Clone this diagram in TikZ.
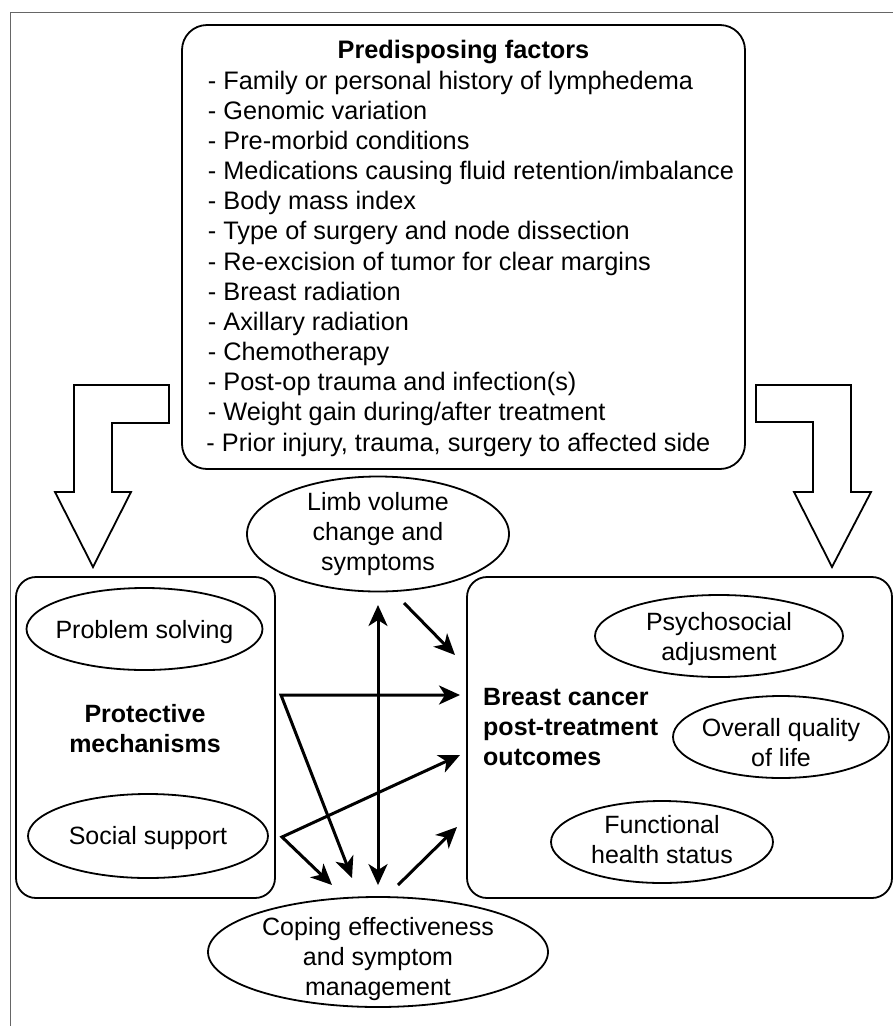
\documentclass[tikz,border=0pt]{standalone}
\usepackage{fontspec}
\setmainfont{Liberation Sans}
\usetikzlibrary{shapes.geometric,arrows.meta}
\begin{document}
\begin{tikzpicture}[x=1pt,y=-1pt,
  boldtxt/.style={font=\fontsize{25}{30}\selectfont\bfseries, inner sep=0pt},
  roundbox/.style={draw, line width=1.8pt, rounded corners=20pt, inner sep=0pt},
  oval/.style={draw, fill=white, ellipse, line width=1.8pt, inner sep=-10pt, align=center, font=\fontsize{25}{30}\selectfont},
  tip/.tip={Stealth[length=21pt,width=19pt,inset=6pt]},
  arr/.style={line width=3pt, -tip},
  dblarr/.style={line width=3pt, tip-tip},
  bigarrow/.style={draw, fill=white, line width=1.8pt, line join=miter},
]
\useasboundingbox (0,0) rectangle (893,1026);
\draw[black!60, line width=1pt] (10,1040) -- (10,12) -- (905,12);

% top box
\node[roundbox, rounded corners=25pt, minimum width=563pt, minimum height=444pt,
      font=\fontsize{25.3}{30.17}\selectfont] (pf) at (463.5,247)
  {\hspace*{14.9pt}\raisebox{-2pt}[\height][\depth]{\begin{tabular}{@{}l@{}}
   \multicolumn{1}{@{}c@{}}{\textbf{Predisposing factors}\hspace*{14.9pt}}\\
   - Family or personal history of lymphedema\\
   - Genomic variation\\
   - Pre-morbid conditions\\
   - Medications causing fluid retention/imbalance\\
   - Body mass index\\
   - Type of surgery and node dissection\\
   - Re-excision of tumor for clear margins\\
   - Breast radiation\\
   - Axillary radiation\\
   - Chemotherapy\\
   - Post-op trauma and infection(s)\\
   - Weight gain during/after treatment\\
   \hspace*{-1.5pt}- Prior injury, trauma, surgery to affected side
   \end{tabular}}};

% hollow arrows
\draw[bigarrow] (74,385) -- (169,385) -- (169,423) -- (112,423) -- (112,492) -- (131,492)
  -- (93,567) -- (55,492) -- (74,492) -- cycle;
\draw[bigarrow] (851,385) -- (756,385) -- (756,422) -- (813,422) -- (813,492) -- (794,492)
  -- (832,567) -- (871,492) -- (851,492) -- cycle;

% side boxes
\node[roundbox, minimum width=259pt, minimum height=321pt] (lbox) at (145.5,737.5) {};
\node[roundbox, minimum width=425pt, minimum height=321pt] (obox) at (679.5,737.5) {};

\node[boldtxt, align=center] (prot) at (145,729) {Protective\\mechanisms};
\node[boldtxt, align=left, anchor=west] (otxt) at (483,727) {Breast cancer\\post-treatment\\outcomes};

% ellipses
\node[oval, minimum width=236pt, minimum height=82pt] (ps) at (144.5,629) {\rule{0pt}{24.2pt}Problem solving};
\node[oval, minimum width=240pt, minimum height=84pt] (ss) at (148,836) {\rule{0pt}{22.3pt}Social support};
\node[oval, minimum width=248pt, minimum height=82pt] (psy) at (719,636) {\rule{0pt}{24.2pt}Psychosocial\\adjusment};
\node[oval, minimum width=216pt, minimum height=82pt] (oq) at (781,737) {\rule{0pt}{28.5pt}Overall quality\\of life};
\node[oval, minimum width=222pt, minimum height=82pt] (fh) at (662,842) {Functional\\health status\rule[-6pt]{0pt}{0pt}};
\node[oval, minimum width=262pt, minimum height=115pt] (limb) at (378,534) {Limb volume\\change and\\symptoms};
\node[oval, minimum width=340pt, minimum height=110pt] (cope) at (378,952) {\rule{0pt}{32pt}Coping effectiveness\\and symptom\\management};

% connector points
\coordinate (j1) at (281,695);
\coordinate (e1) at (460,695);
\coordinate (t1) at (352,878);
\coordinate (j2) at (282,837);
\coordinate (e4) at (460,755);
\coordinate (t2) at (332,885);
\coordinate (s2) at (404,603);
\coordinate (e2) at (455,655);
\coordinate (s5) at (398,885);
\coordinate (e5) at (457,827);

\draw[dblarr, shorten <=12.6pt, shorten >=11pt] (limb.south) -- (cope.north);
\draw[dblarr] (t1) -- (j1) -- (e1);
\draw[dblarr] (t2) -- (j2) -- (e4);
\draw[arr] (s2) -- (e2);
\draw[arr] (s5) -- (e5);
\end{tikzpicture}
\end{document}
